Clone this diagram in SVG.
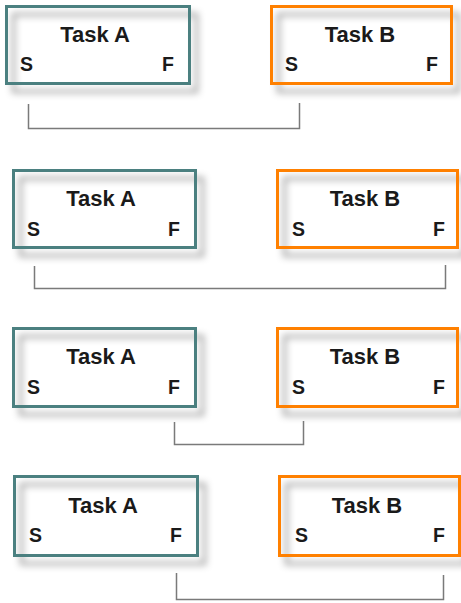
<svg xmlns="http://www.w3.org/2000/svg" width="461" height="603" viewBox="0 0 461 603">
<defs>
<filter id="sh" x="-20%" y="-30%" width="150%" height="170%">
<feGaussianBlur in="SourceAlpha" stdDeviation="3.5" result="b"/>
<feOffset in="b" dx="7" dy="8" result="o"/>
<feFlood flood-color="#000" flood-opacity="0.4"/>
<feComposite in2="o" operator="in" result="s"/>
<feMerge><feMergeNode in="s"/><feMergeNode in="SourceGraphic"/></feMerge>
</filter>
</defs>
<style>
.a{fill:none;stroke:#4b8080;stroke-width:3;filter:url(#sh)}
.b{fill:none;stroke:#ff8000;stroke-width:3;filter:url(#sh)}
.t{font-family:"Liberation Sans",Arial,sans-serif;font-weight:bold;font-size:22px;fill:#1a1a1a;text-anchor:middle}
.l{font-family:"Liberation Sans",Arial,sans-serif;font-weight:bold;font-size:19.5px;fill:#1a1a1a}
.c{fill:none;stroke:#7a7a7a;stroke-width:1.5}
</style>
<rect width="461" height="603" fill="#fff"/>
<g id="r1a"><rect class="a" x="6.5" y="6.5" width="183" height="77"/><text class="t" x="95" y="42">Task A</text><text class="l" x="20" y="71">S</text><text class="l" x="162" y="71">F</text></g>
<g id="r1b"><rect class="b" x="271.5" y="6.5" width="180" height="77"/><text class="t" x="360" y="42">Task B</text><text class="l" x="285" y="71">S</text><text class="l" x="426" y="71">F</text></g>
<g id="r2a"><rect class="a" x="13.5" y="170.5" width="182" height="77"/><text class="t" x="101" y="206">Task A</text><text class="l" x="27" y="236">S</text><text class="l" x="168" y="236">F</text></g>
<g id="r2b"><rect class="b" x="277.5" y="170.5" width="180" height="77"/><text class="t" x="365" y="206">Task B</text><text class="l" x="292" y="236">S</text><text class="l" x="433" y="236">F</text></g>
<g id="r3a"><rect class="a" x="13.5" y="328.5" width="182" height="78"/><text class="t" x="101" y="364">Task A</text><text class="l" x="27" y="394">S</text><text class="l" x="168" y="394">F</text></g>
<g id="r3b"><rect class="b" x="277.5" y="328.5" width="180" height="78"/><text class="t" x="365" y="364">Task B</text><text class="l" x="292" y="394">S</text><text class="l" x="433" y="394">F</text></g>
<g id="r4a"><rect class="a" x="14.5" y="476.5" width="183" height="79"/><text class="t" x="103" y="513">Task A</text><text class="l" x="29" y="542">S</text><text class="l" x="170" y="542">F</text></g>
<g id="r4b"><rect class="b" x="279.5" y="476.5" width="180" height="79"/><text class="t" x="367" y="513">Task B</text><text class="l" x="295" y="542">S</text><text class="l" x="433" y="542">F</text></g>
<g id="connectors">
<path class="c" d="M28.5,104 V128.5 H299.5 V103"/>
<path class="c" d="M34.5,266 V288.5 H445.5 V265"/>
<path class="c" d="M174.5,422 V444.5 H303.5 V421"/>
<path class="c" d="M176.5,573 V599.5 H443.5 V575"/>
</g>
</svg>
